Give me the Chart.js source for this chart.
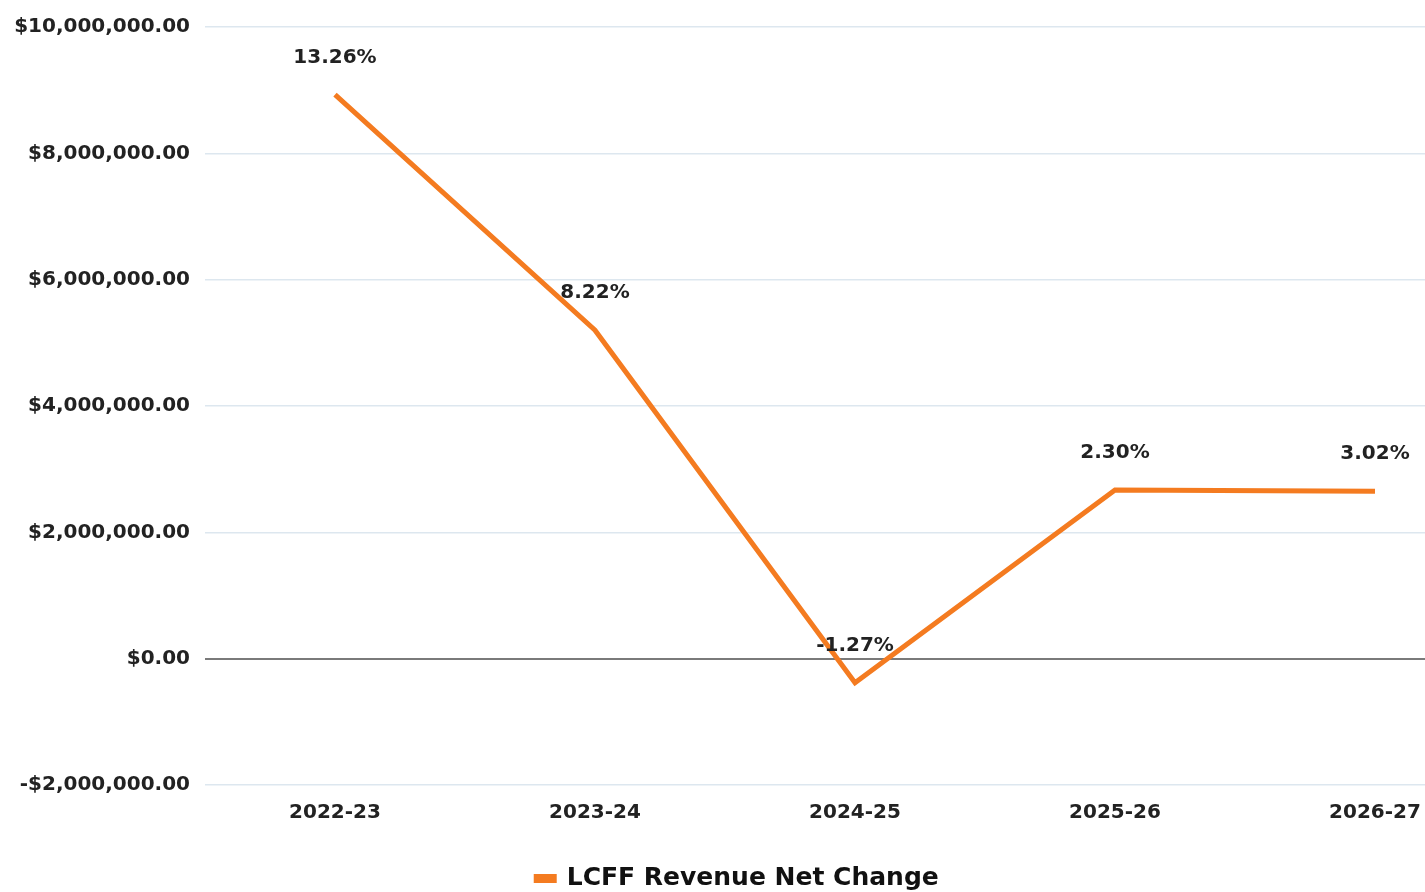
<!DOCTYPE html>
<html>
<head>
<meta charset="utf-8">
<script src="https://cdn.jsdelivr.net/npm/chart.js@4"></script>
<style>
  html, body { margin: 0; padding: 0; background: #fff; }
  #wrap { width: 1425px; height: 892px; }
</style>
</head>
<body>
<div id="wrap"><canvas id="chart1"></canvas></div>
<script>
    "use strict";

    // data
    var years = ['2022-23', '2023-24', '2024-25', '2025-26', '2026-27'];
    var netChange = [8930000, 5200000, -380000, 2670000, 2650000];
    var pctLabels = ['13.26%', '8.22%', '-1.27%', '2.30%', '3.02%'];
    var yTicks = [-2000000, 0, 2000000, 4000000, 6000000, 8000000, 10000000];

    var orange = '#f47b20';
    var font = 'DejaVu Sans';

    function money(v) {
        var s = Math.abs(v).toLocaleString('en-US', { minimumFractionDigits: 2, maximumFractionDigits: 2 });
        return (v < 0 ? '-$' : '$') + s;
    }

    // percent labels above each point
    var pctPlugin = {
        id: 'pctLabels',
        afterLayout: function (chart) {
            // push the legend a bit lower
            if (chart.legend) {
                chart.legend.top += 9;
                chart.legend.bottom += 9;
            }
        },
        afterDatasetsDraw: function (chart) {
            var ctx = chart.ctx;
            var meta = chart.getDatasetMeta(0);
            ctx.save();
            ctx.font = 'bold 20px "' + font + '"';
            ctx.fillStyle = '#222';
            ctx.textAlign = 'center';
            ctx.textBaseline = 'middle';
            meta.data.forEach(function (pt, i) {
                ctx.fillText(pctLabels[i], pt.x, pt.y - 37);
            });
            ctx.restore();
        }
    };

    var ctx = document.getElementById('chart1').getContext('2d');

    var myChart = new Chart(ctx, {
        type: 'line',
        data: {
            datasets: [{
                label: 'LCFF Revenue Net Change',
                data: netChange.map(function (v, i) { return { x: i, y: v }; }),
                borderColor: orange,
                backgroundColor: orange,
                borderWidth: 5,
                pointRadius: 0,
                pointHoverRadius: 0,
                tension: 0
            }]
        },
        options: {
            responsive: true,
            maintainAspectRatio: false,
            animation: false,
            layout: {
                padding: { left: 0, top: 25, right: -50, bottom: 0 }
            },
            scales: {
                x: {
                    type: 'linear',
                    min: -0.5,
                    max: 4.1923,
                    afterBuildTicks: function (scale) {
                        scale.ticks = years.map(function (_, i) { return { value: i }; });
                    },
                    afterFit: function (scale) {
                        scale.height += 13;
                        scale.paddingRight = 0;
                        scale.paddingLeft = 0;
                    },
                    grid: { display: false, drawTicks: false },
                    border: { display: false },
                    ticks: {
                        padding: 16,
                        color: '#222',
                        font: { family: font, size: 20, weight: 'bold' },
                        maxRotation: 0,
                        callback: function (v) { return years[v]; }
                    }
                },
                y: {
                    min: yTicks[0],
                    max: yTicks[yTicks.length - 1],
                    afterBuildTicks: function (scale) {
                        scale.ticks = yTicks.map(function (v) { return { value: v }; });
                    },
                    afterFit: function (scale) {
                        scale.width = 205;
                    },
                    grid: {
                        drawTicks: false,
                        color: function (c) { return c.tick && c.tick.value === 0 ? '#7a7a7a' : '#dde7ef'; },
                        lineWidth: function (c) { return c.tick && c.tick.value === 0 ? 2 : 1.5; }
                    },
                    border: { display: false },
                    ticks: {
                        padding: 15,
                        color: '#222',
                        font: { family: font, size: 20, weight: 'bold' },
                        callback: function (v) { return money(v); }
                    }
                }
            },
            plugins: {
                legend: {
                    position: 'bottom',
                    labels: {
                        boxWidth: 18,
                        boxHeight: 4,
                        color: '#111',
                        padding: 3,
                        font: { family: font, size: 25, weight: 'bold' }
                    }
                },
                tooltip: { enabled: false }
            }
        },
        plugins: [pctPlugin]
    });
</script>
</body>
</html>
